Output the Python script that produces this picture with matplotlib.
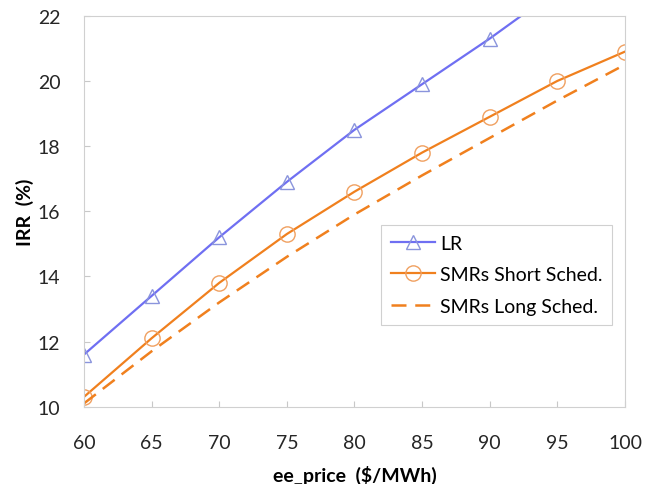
import matplotlib.pyplot as plt

# values
price = [60, 65, 70, 75, 80, 85, 90, 95, 100]
irr_lr = [11.6, 13.4, 15.2, 16.9, 18.5, 19.9, 21.3, 22.8]
irr_smr_short = [10.3, 12.1, 13.8, 15.3, 16.6, 17.8, 18.9, 20.0, 20.9]
irr_smr_long = [10.1, 11.7, 13.2, 14.6, 15.9, 17.1, 18.25, 19.4, 20.5]
x_ticks = [60, 65, 70, 75, 80, 85, 90, 95, 100]
y_ticks = [10, 12, 14, 16, 18, 20, 22]

BLUE = "#6f6ff2"
ORANGE = "#f0801e"

plt.rcParams["font.family"] = ["Lato", "DejaVu Sans"]

fig = plt.figure(figsize=(6.61, 4.85), dpi=100)
ax = fig.add_axes([0.127, 0.1594, 0.8185, 0.806])

ax.plot(price[:len(irr_lr)], irr_lr, color=BLUE, lw=1.6, marker="^", ms=10.5,
        mfc="none", mec="#8a94dc", mew=1.0, label="LR")
ax.plot(price, irr_smr_short, color=ORANGE, lw=1.6, marker="o", ms=11,
        mfc="none", mec="#f0a060", mew=1.0, label="SMRs Short Sched.")
ax.plot(price, irr_smr_long, color=ORANGE, lw=1.8, dashes=(6, 3.5),
        label="SMRs Long Sched.")

ax.set_xlim(60, 100)
ax.set_ylim(10, 22)
ax.set_xticks(x_ticks)
ax.set_yticks(y_ticks)
ax.tick_params(direction="in", length=4, color="#c8c8c8", labelsize=14,
               labelcolor="#262626")
ax.tick_params(axis="x", pad=20)
ax.tick_params(axis="y", pad=17)
for s in ax.spines.values():
    s.set_color("#d0d0d0")

ax.set_xlabel("ee_price  ($/MWh)", fontsize=14, fontweight="bold", labelpad=10)
ax.set_ylabel("IRR  (%)", fontsize=14, fontweight="bold", labelpad=3)

leg = ax.legend(loc="upper left", bbox_to_anchor=(0.549, 0.465), fontsize=14,
                fancybox=False, framealpha=1, edgecolor="#d0d0d0",
                handlelength=2.3, borderpad=0.5, labelspacing=0.75,
                handletextpad=0.25, borderaxespad=0)
leg.get_frame().set_linewidth(0.8)

fig.savefig("out.png", dpi=100)
